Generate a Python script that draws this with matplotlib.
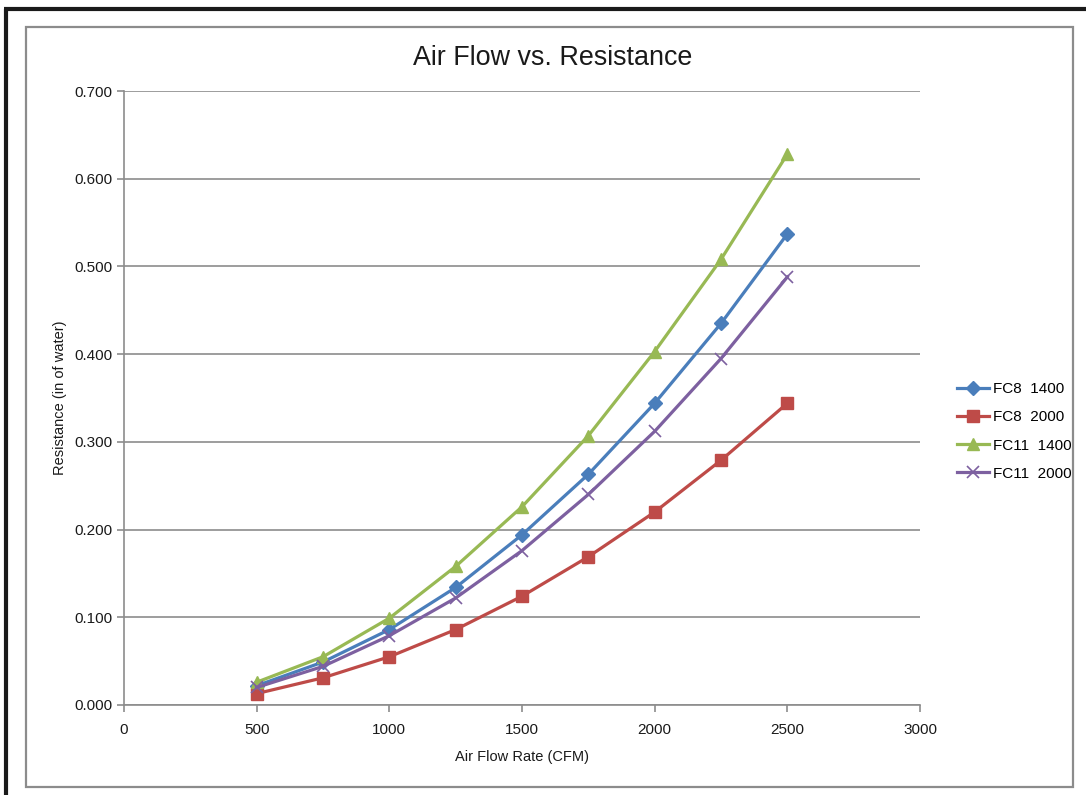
import matplotlib
matplotlib.use("Agg")
import matplotlib.pyplot as plt
from matplotlib.patches import Rectangle
from matplotlib.lines import Line2D

plt.rcParams['font.family'] = ['Liberation Sans', 'DejaVu Sans']

airflow = [500, 750, 1000, 1250, 1500, 1750, 2000, 2250, 2500]
fc8_1400 = [0.022, 0.049, 0.086, 0.134, 0.194, 0.263, 0.344, 0.435, 0.537]
fc8_2000 = [0.013, 0.031, 0.055, 0.086, 0.124, 0.169, 0.220, 0.279, 0.344]
fc11_1400 = [0.026, 0.055, 0.099, 0.158, 0.226, 0.307, 0.403, 0.508, 0.628]
fc11_2000 = [0.020, 0.044, 0.079, 0.122, 0.176, 0.240, 0.312, 0.395, 0.488]
series_names = ["FC8  1400", "FC8  2000", "FC11  1400", "FC11  2000"]
x_ticks = [0, 500, 1000, 1500, 2000, 2500, 3000]
y_ticks = [0.0, 0.1, 0.2, 0.3, 0.4, 0.5, 0.6, 0.7]

W, H = 1086, 795
fig = plt.figure(figsize=(W / 100, H / 100), dpi=100)

# outer black border (partial) and inner gray chart-area frame
fig.add_artist(Line2D([5.5 / W, 5.5 / W], [0, 1 - 9 / H], transform=fig.transFigure,
                      color='#1a1a1a', lw=3, solid_capstyle='butt'))
fig.add_artist(Line2D([4 / W, 1], [1 - 9 / H, 1 - 9 / H], transform=fig.transFigure,
                      color='#1a1a1a', lw=3, solid_capstyle='butt'))
fig.add_artist(Rectangle((26 / W, 1 - 787 / H), (1073 - 26) / W, (787 - 27) / H,
                         transform=fig.transFigure, fill=False, edgecolor='#8c8c8c', lw=1.6))

ax = fig.add_axes([124 / W, 1 - 705 / H, (920 - 124) / W, (705 - 91) / H])

styles = [
    (fc8_1400, '#4A7EBB', 'D', 7),
    (fc8_2000, '#BE4B48', 's', 8),
    (fc11_1400, '#98B954', '^', 9),
    (fc11_2000, '#7D60A0', 'x', 8),
]
for (vals, col, mk, ms), name in zip(styles, series_names):
    kw = dict(markeredgewidth=1.2) if mk == 'x' else dict(markeredgecolor=col)
    ax.plot(airflow, vals, color=col, lw=2.3, marker=mk, markersize=ms,
            markerfacecolor=col, label=name, **kw)

ax.set_xlim(0, 3000)
ax.set_ylim(0, 0.7)
ax.set_xticks(x_ticks)
ax.set_yticks(y_ticks)
ax.set_yticklabels([f"{v:.3f}" for v in y_ticks])
ax.grid(axis='y', color='#8c8c8c', lw=1.2)
ax.set_axisbelow(True)
for s in ['top', 'right']:
    ax.spines[s].set_visible(False)
for s in ['left', 'bottom']:
    ax.spines[s].set_color('#8c8c8c')
    ax.spines[s].set_linewidth(1.2)
ax.tick_params(axis='both', colors='#8c8c8c', length=5, width=1.2, labelcolor='#1a1a1a',
               labelsize=11)
ax.tick_params(axis='x', pad=8)

fig.text(553 / W, 1 - 58 / H, "Air Flow vs. Resistance", fontsize=19.4, color='#1a1a1a',
         ha='center', va='center')
ax.set_xlabel("Air Flow Rate (CFM)", fontsize=10.5, color='#1a1a1a', labelpad=9)
ax.set_ylabel("Resistance (in of water)", fontsize=10.5, color='#1a1a1a', labelpad=5)

ax.legend(loc='center left', bbox_to_anchor=(943 / W, 1 - 431.5 / H),
          bbox_transform=fig.transFigure, frameon=False, fontsize=11,
          handlelength=2.1, handletextpad=0.25, labelspacing=0.92)

fig.savefig("out.png", dpi=100)
